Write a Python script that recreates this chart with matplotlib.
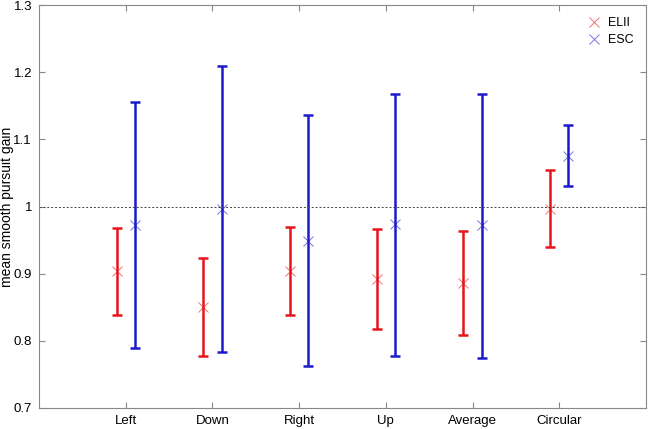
import matplotlib
matplotlib.use("Agg")
import matplotlib.pyplot as plt
import numpy as np

plt.rcParams['font.family'] = ['Liberation Sans', 'DejaVu Sans']

# data
conditions = ['Left', 'Down', 'Right', 'Up', 'Average', 'Circular']
elii_mean = [0.904, 0.850, 0.904, 0.892, 0.886, 0.997]
elii_low = [0.839, 0.777, 0.838, 0.817, 0.808, 0.939]
elii_high = [0.968, 0.923, 0.969, 0.967, 0.964, 1.054]
esc_mean = [0.973, 0.996, 0.949, 0.974, 0.972, 1.075]
esc_low = [0.790, 0.783, 0.762, 0.778, 0.775, 1.031]
esc_high = [1.155, 1.209, 1.136, 1.168, 1.168, 1.121]

x = np.arange(1, len(conditions) + 1)
off = 0.105

fig = plt.figure(figsize=(6.49, 4.29), dpi=100)
ax = fig.add_axes([39/649, 21/429, 607/649, 403/429])

def draw(xpos, mean, low, high, color, label):
    mean = np.array(mean)
    err = [mean - np.array(low), np.array(high) - mean]
    ax.errorbar(xpos, mean, yerr=err, fmt='none', ecolor=color, elinewidth=1.8,
                capsize=3.6, capthick=1.8)
    ax.plot(xpos, mean, linestyle='none', marker='x', markersize=7,
            markeredgewidth=0.7, color=color, alpha=0.6, label=label)

draw(x - off, elii_mean, elii_low, elii_high, '#e8141b', 'ELII')
draw(x + off, esc_mean, esc_low, esc_high, '#1a1acc', 'ESC')

ax.axhline(1.0, color='#444444', linestyle=(0, (2, 2)), linewidth=0.7)

ax.set_xlim(0, 7)
ax.set_ylim(0.7, 1.3)
ax.set_xticks(x)
ax.set_xticklabels(conditions)
ax.set_yticks(np.arange(0.7, 1.31, 0.1))
ax.set_yticklabels(['0.7', '0.8', '0.9', '1', '1.1', '1.2', '1.3'])
ax.tick_params(direction='in', top=True, right=True, length=4, width=0.8,
               color='#888888', labelsize=9.5, pad=5)
for s in ax.spines.values():
    s.set_color('#888888')
    s.set_linewidth(0.8)
ax.set_ylabel('mean smooth pursuit gain', fontsize=10)
ax.yaxis.set_label_coords(-24.5/607, 0.5)

leg = ax.legend(loc='upper right', frameon=False, fontsize=9, handlelength=1.0,
                handletextpad=0.6, borderaxespad=0.6, labelspacing=0.35)
for h in leg.legend_handles:
    h.set_alpha(0.6)

fig.savefig('out.png', dpi=100)
